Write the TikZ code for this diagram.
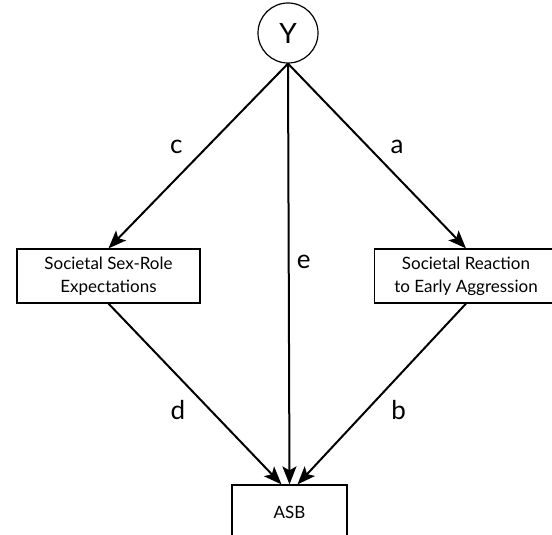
\documentclass[tikz,border=0pt]{standalone}
\usepackage{fontspec}
\setmainfont{Lato}
\usetikzlibrary{arrows.meta}

\begin{document}
\begin{tikzpicture} [
                x=1pt, y=-1pt,
                % the latent factor and the observed boxes
                latent/.style = {circle,draw,line width=1.2pt,minimum size=60pt,inner sep=0pt,
                                 font=\fontsize{28}{32}\selectfont},
                construct/.style = {rectangle,draw,line width=1.2pt,minimum width=183pt,
                                    minimum height=54pt,align=center,
                                    font=\fontsize{17}{23}\selectfont},
                outcome/.style = {construct, minimum width=115pt},
                edge/.style = {draw,line width=2pt,-{Stealth[length=18pt,width=14pt,inset=4pt]}},
                weight/.style = {font=\fontsize{26}{30}\selectfont}
            ]
            % keep the frame of the original, cut off at the edges
            \useasboundingbox (0,0) rectangle (552,535);
            \clip (0,0) rectangle (552,535);
            % First we draw the nodes
            \node[latent] (Y) at (288,33) {Y};
            \node[construct] (sexrole) at (108.5,276) {Societal Sex-Role\\Expectations};
            \node[construct] (reaction) at (466,276) {Societal Reaction\\to Early Aggression};
            \node[outcome] (asb) at (289.5,512) {ASB};
            % the two side arrows meet ASB a bit off its middle
            \coordinate (asb-left) at ([xshift=-8pt]asb.north);
            \coordinate (asb-right) at ([xshift=8pt]asb.north);
            % Connect nodes with paths and put the path labels
            \foreach \source/ \dest /\weight/\offset in {
                    Y.south/sexrole.north/c/{-22pt,9pt},
                    Y.south/reaction.north/a/{20pt,9pt},
                    Y.south/asb.north/e/{15pt,12pt},
                    sexrole.south/asb-left/d/{-17pt,-16pt},
                    reaction.south/asb-right/b/{17pt,-16pt}}
                \path[edge] (\source) -- node[weight,shift={(\offset)}] {\weight} (\dest);
        \end{tikzpicture}
\end{document}
